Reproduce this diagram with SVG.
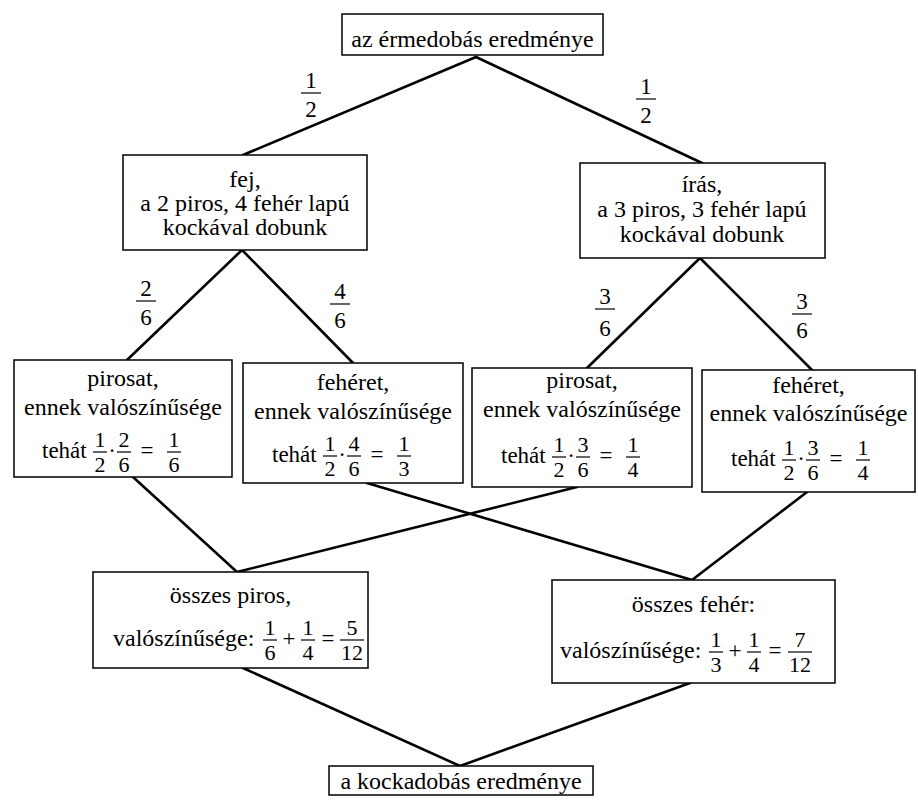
<svg xmlns="http://www.w3.org/2000/svg" width="918" height="803" viewBox="0 0 918 803">
<style>
  .box{fill:#fff;stroke:#000;stroke-width:1.5}
  text{font-family:'Liberation Serif','Times New Roman',Tinos,'DejaVu Serif',serif;fill:#000}
  .t{font-size:24px;text-anchor:middle}
  .ts{font-size:24px}
  .tm{font-size:23px}
  .m{font-size:23px;text-anchor:middle}
  .d{font-size:22px;text-anchor:middle}
  .L{font-size:23px;text-anchor:middle}
  .bar{stroke:#000;stroke-width:1.2}
  .c{stroke:#000;stroke-width:2.6;fill:none;stroke-linecap:round}
</style>
<rect width="918" height="803" fill="#fff"/>

<g id="connectors">
  <line class="c" x1="476" y1="57" x2="243" y2="155"/>
  <line class="c" x1="476" y1="57" x2="702" y2="163"/>
  <line class="c" x1="242" y1="250" x2="127" y2="360"/>
  <line class="c" x1="242" y1="250" x2="353" y2="363"/>
  <line class="c" x1="700" y1="258" x2="587" y2="368"/>
  <line class="c" x1="700" y1="258" x2="812" y2="370"/>
  <line class="c" x1="133" y1="477" x2="237" y2="572"/>
  <line class="c" x1="367" y1="483" x2="692" y2="580"/>
  <line class="c" x1="577" y1="487" x2="237" y2="572"/>
  <line class="c" x1="807" y1="492" x2="692" y2="580"/>
  <line class="c" x1="243" y1="668" x2="460" y2="766"/>
  <line class="c" x1="690" y1="683" x2="460" y2="766"/>
  <g id="lab1"><text class="L" x="311" y="88">1</text><line class="bar" x1="301" y1="93" x2="321" y2="93"/><text class="L" x="311" y="117">2</text></g>
  <g id="lab2"><text class="L" x="646" y="94">1</text><line class="bar" x1="636" y1="99" x2="656" y2="99"/><text class="L" x="646" y="123">2</text></g>
  <g id="lab3"><text class="L" x="146" y="296">2</text><line class="bar" x1="136" y1="301" x2="156" y2="301"/><text class="L" x="146" y="325">6</text></g>
  <g id="lab4"><text class="L" x="340" y="299">4</text><line class="bar" x1="330" y1="304" x2="350" y2="304"/><text class="L" x="340" y="328">6</text></g>
  <g id="lab5"><text class="L" x="605" y="304">3</text><line class="bar" x1="595" y1="309" x2="615" y2="309"/><text class="L" x="605" y="336">6</text></g>
  <g id="lab6"><text class="L" x="802" y="309">3</text><line class="bar" x1="792" y1="314" x2="812" y2="314"/><text class="L" x="802" y="338">6</text></g>
</g>

<g id="n-top">
  <rect class="box" x="342" y="14" width="261" height="41"/>
  <text class="t" x="472.5" y="47">az érmedobás eredménye</text>
</g>

<g id="n-fej">
  <rect class="box" x="123" y="155" width="244" height="95"/>
  <text class="t" x="245" y="187">fej,</text>
  <text class="t" x="245" y="211">a 2 piros, 4 fehér lapú</text>
  <text class="t" x="245" y="235">kockával dobunk</text>
</g>

<g id="n-iras">
  <rect class="box" x="580" y="163" width="245" height="95"/>
  <text class="t" x="702" y="192">írás,</text>
  <text class="t" x="702" y="217">a 3 piros, 3 fehér lapú</text>
  <text class="t" x="702" y="242">kockával dobunk</text>
</g>

<g id="n-p1">
  <rect class="box" x="14" y="360" width="218" height="117"/>
  <text class="t" x="123" y="386">pirosat,</text>
  <text class="t" x="123" y="415">ennek valószínűsége</text>
  <text class="tm" x="42" y="458">tehát</text>
  <text class="d" x="100" y="447">1</text><line class="bar" x1="93" y1="452" x2="107" y2="452"/><text class="d" x="100" y="472">2</text>
  <text class="m" x="112" y="458">·</text>
  <text class="d" x="124" y="447">2</text><line class="bar" x1="117" y1="452" x2="131" y2="452"/><text class="d" x="124" y="472">6</text>
  <text class="m" x="147" y="458">=</text>
  <text class="d" x="174" y="447">1</text><line class="bar" x1="167" y1="452" x2="181" y2="452"/><text class="d" x="174" y="472">6</text>
</g>

<g id="n-f1">
  <rect class="box" x="243" y="363" width="220" height="120"/>
  <text class="t" x="353" y="390">fehéret,</text>
  <text class="t" x="353" y="419">ennek valószínűsége</text>
  <text class="tm" x="272" y="462">tehát</text>
  <text class="d" x="330" y="451">1</text><line class="bar" x1="323" y1="456" x2="337" y2="456"/><text class="d" x="330" y="476">2</text>
  <text class="m" x="342" y="462">·</text>
  <text class="d" x="354" y="451">4</text><line class="bar" x1="347" y1="456" x2="361" y2="456"/><text class="d" x="354" y="476">6</text>
  <text class="m" x="377" y="462">=</text>
  <text class="d" x="404" y="451">1</text><line class="bar" x1="397" y1="456" x2="411" y2="456"/><text class="d" x="404" y="476">3</text>
</g>

<g id="n-p2">
  <rect class="box" x="472" y="368" width="220" height="119"/>
  <text class="t" x="582" y="388">pirosat,</text>
  <text class="t" x="582" y="417">ennek valószínűsége</text>
  <text class="tm" x="501" y="463">tehát</text>
  <text class="d" x="559" y="452">1</text><line class="bar" x1="552" y1="457" x2="566" y2="457"/><text class="d" x="559" y="477">2</text>
  <text class="m" x="571" y="463">·</text>
  <text class="d" x="583" y="452">3</text><line class="bar" x1="576" y1="457" x2="590" y2="457"/><text class="d" x="583" y="477">6</text>
  <text class="m" x="606" y="463">=</text>
  <text class="d" x="633" y="452">1</text><line class="bar" x1="626" y1="457" x2="640" y2="457"/><text class="d" x="633" y="477">4</text>
</g>

<g id="n-f2">
  <rect class="box" x="702" y="370" width="213" height="122"/>
  <text class="t" x="808.5" y="393">fehéret,</text>
  <text class="t" x="808.5" y="421">ennek valószínűsége</text>
  <text class="tm" x="731" y="466">tehát</text>
  <text class="d" x="789" y="455">1</text><line class="bar" x1="782" y1="460" x2="796" y2="460"/><text class="d" x="789" y="480">2</text>
  <text class="m" x="801" y="466">·</text>
  <text class="d" x="813" y="455">3</text><line class="bar" x1="806" y1="460" x2="820" y2="460"/><text class="d" x="813" y="480">6</text>
  <text class="m" x="836" y="466">=</text>
  <text class="d" x="863" y="455">1</text><line class="bar" x1="856" y1="460" x2="870" y2="460"/><text class="d" x="863" y="480">4</text>
</g>

<g id="n-osszpiros">
  <rect class="box" x="93" y="572" width="275" height="96"/>
  <text class="t" x="230.5" y="603">összes piros,</text>
  <text class="ts" x="113" y="646">valószínűsége:</text>
  <text class="d" x="270" y="635">1</text><line class="bar" x1="263" y1="640" x2="277" y2="640"/><text class="d" x="270" y="660">6</text>
  <text class="m" x="289" y="646">+</text>
  <text class="d" x="308" y="635">1</text><line class="bar" x1="301" y1="640" x2="315" y2="640"/><text class="d" x="308" y="660">4</text>
  <text class="m" x="328" y="646">=</text>
  <text class="d" x="352" y="635">5</text><line class="bar" x1="340" y1="640" x2="364" y2="640"/><text class="d" x="352" y="660">12</text>
</g>

<g id="n-osszfeher">
  <rect class="box" x="552" y="580" width="283" height="103"/>
  <text class="t" x="693.5" y="612">összes fehér:</text>
  <text class="ts" x="560" y="658">valószínűsége:</text>
  <text class="d" x="716" y="647">1</text><line class="bar" x1="709" y1="652" x2="723" y2="652"/><text class="d" x="716" y="672">3</text>
  <text class="m" x="735" y="658">+</text>
  <text class="d" x="754" y="647">1</text><line class="bar" x1="747" y1="652" x2="761" y2="652"/><text class="d" x="754" y="672">4</text>
  <text class="m" x="775" y="658">=</text>
  <text class="d" x="800" y="647">7</text><line class="bar" x1="788" y1="652" x2="812" y2="652"/><text class="d" x="800" y="672">12</text>
</g>

<g id="n-bottom">
  <rect class="box" x="329" y="766" width="264" height="29"/>
  <text class="t" x="461" y="789">a kockadobás eredménye</text>
</g>
</svg>
